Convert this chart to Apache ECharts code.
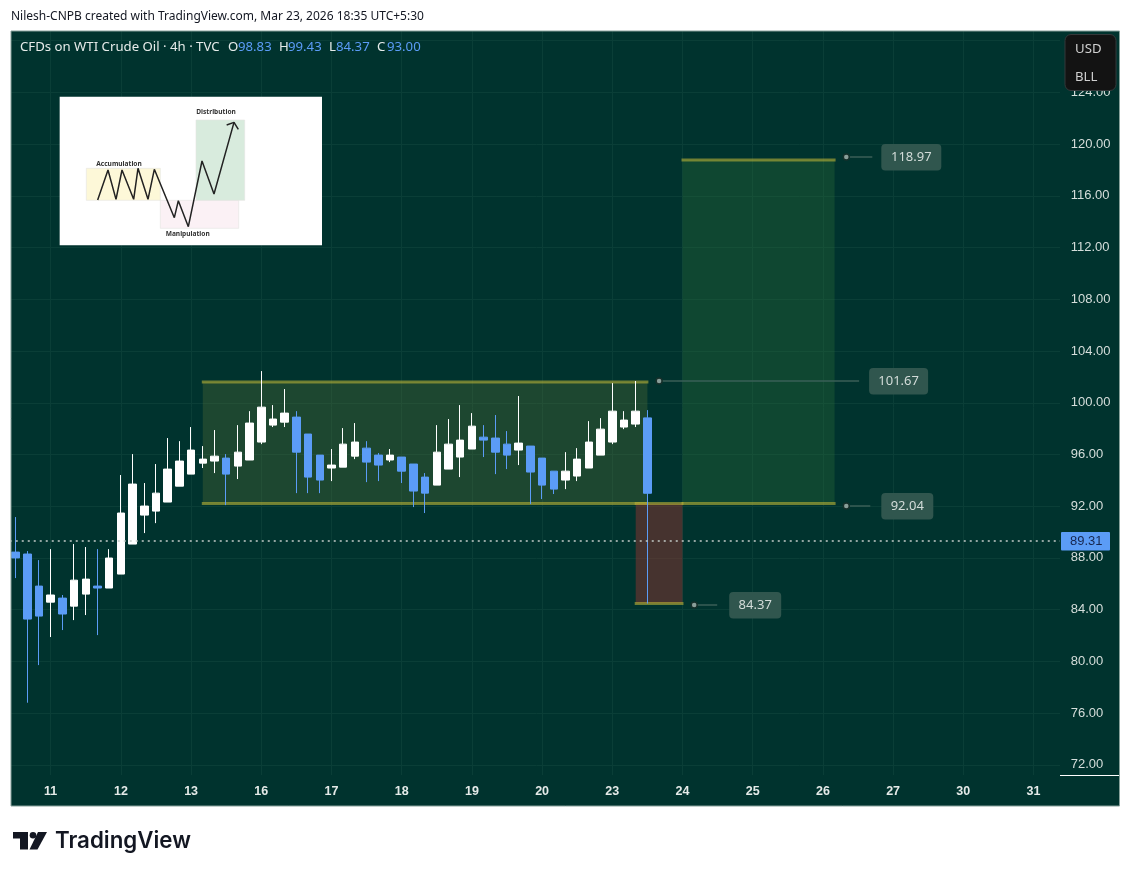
<!DOCTYPE html>
<html>
<head>
<meta charset="utf-8">
<title>CFDs on WTI Crude Oil</title>
<script src="https://cdn.jsdelivr.net/npm/echarts@6/dist/echarts.min.js"></script>
<style>
html,body{margin:0;padding:0;background:#fff;}
#main{width:1131px;height:875px;}
</style>
</head>
<body>
<div id="main"></div>
<script>
// time axis, one slot per 4h candle, 6 per day
var dayTicks = ['11','12','13','16','17','18','19','20','23','24','25','26','27','30','31'];
var slotCount = 90;

// candles
var opens = [88.45,88.30,85.82,84.58,84.89,84.27,85.20,85.82,85.67,86.75,89.07,91.31,91.62,92.32,93.55,94.48,95.33,95.49,95.72,95.10,95.57,96.96,98.27,98.50,98.89,97.58,95.95,94.95,95.02,95.87,96.49,95.95,95.57,95.80,95.26,94.25,93.63,94.87,95.80,96.42,97.34,97.27,96.80,96.34,96.65,95.72,94.71,94.02,94.33,94.95,95.95,96.96,98.12,98.35,98.83];
var closes = [88.00,83.27,83.50,85.13,83.66,86.28,86.36,85.67,87.99,91.47,93.71,92.01,93.01,94.87,95.49,96.34,95.64,95.87,94.48,96.18,98.43,99.66,98.74,99.20,96.18,94.25,94.02,95.18,96.80,96.96,95.41,95.18,95.95,94.71,93.17,93.01,96.18,96.80,97.11,98.19,97.11,96.18,95.95,96.88,94.64,93.63,93.32,94.71,95.64,96.96,97.96,99.35,98.66,99.35,93.00];
var lows = [86.44,76.80,79.71,81.88,82.42,83.19,83.58,82.03,85.67,86.75,89.07,89.92,90.69,92.32,93.55,94.48,94.95,94.56,92.08,94.10,95.57,96.80,98.12,98.12,93.01,93.01,93.01,93.94,95.02,95.64,93.86,93.94,95.41,93.79,91.93,91.47,93.63,94.87,94.25,96.42,95.80,94.48,94.87,95.18,92.16,92.55,92.94,93.32,93.94,94.95,95.95,96.80,97.96,98.12,84.47];
var highs = [91.16,88.53,87.83,88.68,85.13,89.07,88.84,88.68,88.68,94.41,96.03,93.79,95.26,97.27,97.03,98.12,96.65,97.89,96.03,98.27,99.35,102.45,99.82,101.06,99.35,97.58,95.95,96.42,98.04,98.43,97.03,96.11,96.42,95.80,95.26,94.56,98.27,98.74,99.82,99.20,98.27,99.05,97.81,100.52,96.65,95.72,94.71,96.18,96.49,98.58,98.81,101.52,99.35,101.68,99.43];
var lastPrice = 89.31;

// drawn zones: first slot, last slot, price, price
var zoneStart = [16,57,53];
var zoneEnd = [54,70,57];
var zoneHigh = [101.60,118.78,92.20];
var zoneLow = [92.20,92.20,84.47];
var zoneFill = ['rgba(97,118,53,0.3)','rgba(50,118,56,0.3)','rgba(140,51,48,0.5)'];

// price callouts beside the zones
var calloutSlot = [71,55,71,58];
var calloutPrice = [118.97,101.67,92.04,84.37];
var calloutText = ['118.97','101.67','92.04','84.37'];
var calloutLine = [26,200,24,23];
var calloutGap = [35,210,35,35];
var calloutWidth = [60,59,52,52];

// small sketch in the corner (its own 840x480 grid)
var sketchLeft = [29,109,331,438];
var sketchRight = [816,331,566,584];
var sketchTop = [20,235,331,90];
var sketchBottom = [466,331,415,331];
var sketchFill = ['#ffffff','#fdf8d8','#fbf1f5','#d8ebdd'];
var sketchPathX = [143,174,198,216,251,264,294,313,373,385,415,456,492,552];
var sketchPathY = [330,240,328,240,328,235,328,238,383,332,410,213,312,97];
var sketchArrowX = [530,552,565];
var sketchArrowY = [105,97,118];

var PANEL = '#00332e';
var GRID = '#0a3e37';
var OLIVE = 'rgba(185,178,55,0.6)';
var BLUE = '#5b9cf6';
var FONT = '"Noto Sans",sans-serif';

var categories = [];
for(var s=0;s<slotCount;s++){
	categories.push((s-3)%6==0 && s>=3 ? dayTicks[(s-3)/6] : '');
}
function hasTick(i,val){
	return val!=='';
}

function zoneItem(params,api){
	var a = api.coord([api.value(0),api.value(2)]);
	var b = api.coord([api.value(1),api.value(3)]);
	var fill = zoneFill[params.dataIndex];
	return {type:'group',children:[
		{type:'rect',shape:{x:a[0],y:a[1],width:b[0]-a[0],height:b[1]-a[1]},style:{fill:fill}},
		{type:'line',shape:{x1:a[0]-1,y1:a[1],x2:b[0]+1,y2:a[1]},style:{stroke:OLIVE,lineWidth:3}},
		{type:'line',shape:{x1:a[0]-1,y1:b[1],x2:b[0]+1,y2:b[1]},style:{stroke:OLIVE,lineWidth:3}}
	]};
}

function calloutItem(params,api){
	var i = params.dataIndex;
	var p = api.coord([api.value(0),api.value(1)]);
	var y = Math.round(p[1]);
	return {type:'group',children:[
		{type:'line',shape:{x1:p[0],y1:y,x2:p[0]+calloutLine[i],y2:y},style:{stroke:'#3a5f57',lineWidth:1.5}},
		{type:'circle',shape:{cx:p[0],cy:y,r:3},style:{fill:'#8a9e99',stroke:'#16302b',lineWidth:1.5}},
		{type:'rect',shape:{x:p[0]+calloutGap[i],y:y-13,width:calloutWidth[i],height:26.5,r:4},style:{fill:'#30564e'}},
		{type:'text',style:{x:p[0]+calloutGap[i]+calloutWidth[i]/2,y:y,text:calloutText[i],fill:'#d3dcd9',
			font:'13px '+FONT,align:'center',verticalAlign:'middle'}}
	]};
}

function sketchItem(params,api){
	var a = api.coord([api.value(0),api.value(2)]);
	var b = api.coord([api.value(1),api.value(3)]);
	var i = params.dataIndex;
	return {type:'rect',shape:{x:a[0],y:a[1],width:b[0]-a[0],height:b[1]-a[1]},
		style:{fill:sketchFill[i],stroke:i==0?null:'#e4e4e0',lineWidth:0.6}};
}

function pairs(xs,ys){
	return xs.map(function(x,i){return [x,ys[i]];});
}

function label(x,y,text,color,font,extra){
	var o = {type:'text',z:62,x:x,y:y,silent:true,style:{text:text,fill:color,font:font,verticalAlign:'middle'}};
	if(extra){o.style.align = extra;}
	return o;
}
function cover(x,y,w,h,fill){
	return {type:'rect',z:50,silent:true,shape:{x:x,y:y,width:w,height:h},style:{fill:fill}};
}

var legendFont = '13.2px '+FONT;
var graphics = [
	// page margins around the panel
	cover(0,0,1131,31,'#fff'),
	cover(0,806,1131,69,'#fff'),
	cover(0,0,11,875,'#fff'),
	cover(1119.5,0,12,875,'#fff'),
	// time strip and price strip stay clean of grid lines
	cover(11,775,1050,31,PANEL),
	cover(1060,31,4,775,PANEL),
	{type:'rect',z:55,silent:true,shape:{x:11,y:31,width:1108.5,height:775},style:{fill:null,stroke:'#86a09a',lineWidth:1}},
	{type:'line',z:55,silent:true,shape:{x1:1060,y1:775.5,x2:1119,y2:775.5},style:{stroke:'#fff',lineWidth:1}},
	label(11,17,'Nilesh-CNPB created with TradingView.com, Mar 23, 2026 18:35 UTC+5:30','#131722','12px '+FONT),
	// legend row
	label(20,47,'CFDs on WTI Crude Oil · 4h · TVC','#e6ecea',legendFont),
	label(228,47,'O','#e6ecea',legendFont),label(238,47,'98.83',BLUE,legendFont),
	label(279,47,'H','#e6ecea',legendFont),label(288,47,'99.43',BLUE,legendFont),
	label(329,47,'L','#e6ecea',legendFont),label(336,47,'84.37',BLUE,legendFont),
	label(377,47,'C','#e6ecea',legendFont),label(387,47,'93.00',BLUE,legendFont),
	// currency box
	{type:'rect',z:60,silent:true,shape:{x:1065,y:34.5,width:51,height:56,r:6},style:{fill:'#131313',stroke:'#34383a',lineWidth:1}},
	label(1075,49,'USD','#d0d0d0',legendFont),
	label(1075,77,'BLL','#d0d0d0',legendFont),
	// last price tag
	{type:'rect',z:60,silent:true,shape:{x:1061,y:532,width:49,height:18.5,r:1},style:{fill:BLUE}},
	label(1070,541.5,'89.31','#17264e','13px "Liberation Sans",sans-serif'),
	// sketch captions
	label(119,164,'Accumulation','#333','bold 6.6px '+FONT,'center'),
	label(216,112,'Distribution','#333','bold 6.6px '+FONT,'center'),
	label(187.7,234,'Manipulation','#333','bold 6.6px '+FONT,'center'),
	// logo
	{type:'rect',z:60,silent:true,shape:{x:13,y:832,width:15,height:6.5},style:{fill:'#131722'}},
	{type:'rect',z:60,silent:true,shape:{x:20,y:838,width:8,height:11.5},style:{fill:'#131722'}},
	{type:'circle',z:60,silent:true,shape:{cx:33,cy:835.2,r:3.3},style:{fill:'#131722'}},
	{type:'polygon',z:60,silent:true,shape:{points:[[38,832],[47,832],[37.5,849.5],[29.5,849.5]]},style:{fill:'#131722'}},
	label(55,841,'TradingView','#131722','600 22.3px Inter,sans-serif')
];

var option = {
	animation:false,
	backgroundColor:PANEL,
	textStyle:{fontFamily:FONT},
	grid:[
		{left:9.75,top:-11,width:1053,height:827.5,outerBoundsMode:'none'},
		{left:50,top:90,width:280,height:160,outerBoundsMode:'none'}
	],
	xAxis:[{
		type:'category',gridIndex:0,data:categories,boundaryGap:true,
		axisLine:{show:false},axisTick:{show:false},axisLabel:{show:false},
		splitLine:{show:true,interval:hasTick,alignWithLabel:true,lineStyle:{color:GRID,width:1}}
	},{
		type:'category',gridIndex:0,position:'bottom',offset:-39,z:60,data:categories,boundaryGap:true,
		axisLine:{show:false},axisTick:{show:false},splitLine:{show:false},
		axisLabel:{show:true,interval:hasTick,margin:8,color:'#e4eae8',fontSize:12.5,fontWeight:'bold',fontFamily:'"Liberation Sans",sans-serif'}
	},{
		type:'value',gridIndex:1,min:0,max:840,show:false
	}],
	yAxis:[{
		type:'value',gridIndex:0,position:'right',min:68,max:132,interval:4,
		axisLine:{show:false},axisTick:{show:false},
		splitLine:{show:true,lineStyle:{color:GRID,width:1}},
		axisLabel:{margin:8,color:'#d5dedb',fontSize:13,fontFamily:'"Liberation Sans",sans-serif',
			formatter:function(v){return v.toFixed(2);}}
	},{
		type:'value',gridIndex:1,min:0,max:480,inverse:true,show:false
	}],
	series:[{
		type:'custom',name:'zones',xAxisIndex:0,yAxisIndex:0,z:1,renderItem:zoneItem,
		encode:{x:[0,1],y:[2,3]},
		data:zoneStart.map(function(v,i){return [v,zoneEnd[i],zoneHigh[i],zoneLow[i]];})
	},{
		type:'candlestick',name:'WTI',xAxisIndex:0,yAxisIndex:0,z:3,barWidth:8,
		itemStyle:{color:'#ffffff',color0:BLUE,borderColor:'#ffffff',borderColor0:BLUE,borderWidth:1},
		data:opens.map(function(v,i){return [v,closes[i],lows[i],highs[i]];}),
		markLine:{
			silent:true,symbol:'none',animation:false,label:{show:false},
			lineStyle:{type:[2,4],color:'#c4ccc9',width:1.5},
			data:[{yAxis:lastPrice}]
		}
	},{
		type:'custom',name:'callouts',xAxisIndex:0,yAxisIndex:0,z:4,renderItem:calloutItem,
		encode:{x:0,y:1},
		data:calloutSlot.map(function(v,i){return [v,calloutPrice[i]];})
	},{
		type:'custom',name:'sketch',xAxisIndex:2,yAxisIndex:1,z:5,renderItem:sketchItem,
		encode:{x:[0,1],y:[2,3]},
		data:sketchLeft.map(function(v,i){return [v,sketchRight[i],sketchTop[i],sketchBottom[i]];})
	},{
		type:'line',name:'sketch path',xAxisIndex:2,yAxisIndex:1,z:6,showSymbol:false,silent:true,
		lineStyle:{color:'#222',width:1.5},data:pairs(sketchPathX,sketchPathY)
	},{
		type:'line',name:'sketch arrow',xAxisIndex:2,yAxisIndex:1,z:6,showSymbol:false,silent:true,
		lineStyle:{color:'#222',width:1.5},data:pairs(sketchArrowX,sketchArrowY)
	}],
	graphic:graphics
};

var myChart = echarts.init(document.getElementById('main'));
myChart.setOption(option);
</script>
</body>
</html>
